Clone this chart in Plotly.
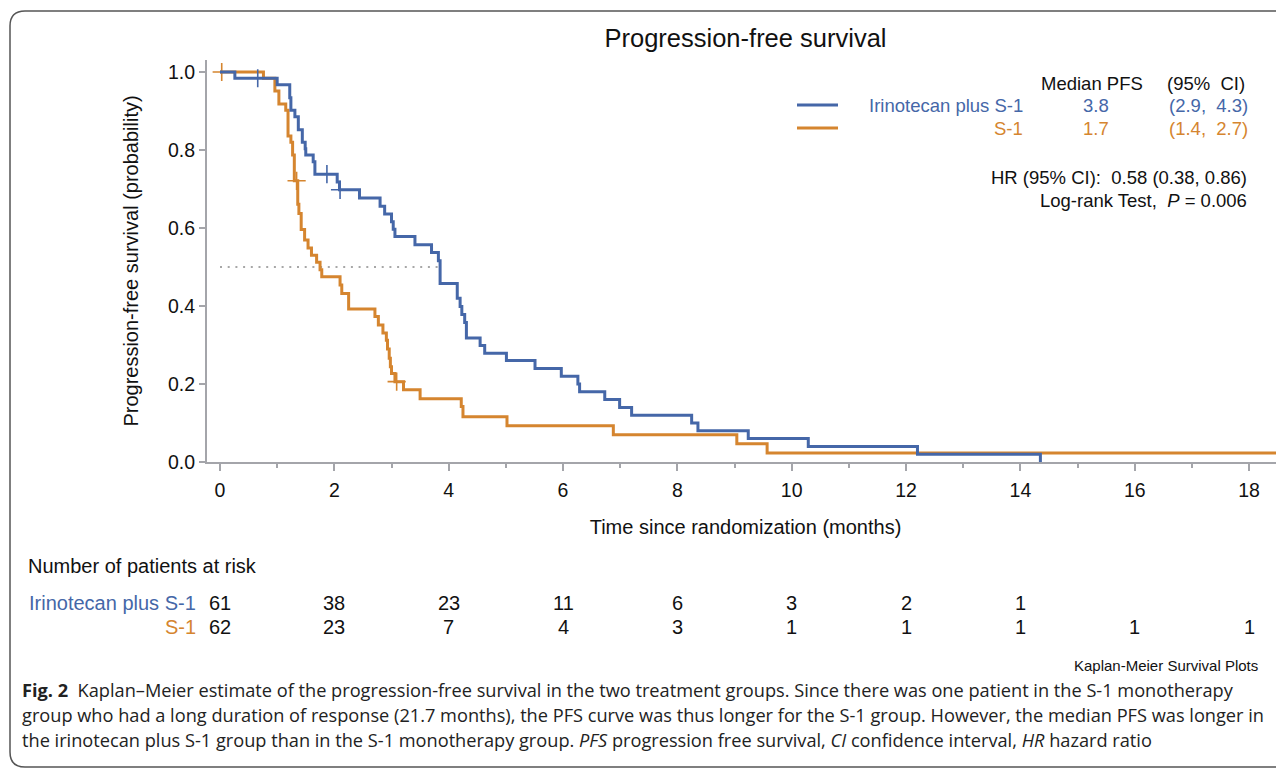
import plotly.graph_objects as go

# ---------------- data ----------------
ir_t = [0, 0.26, 1.00, 1.22, 1.24, 1.31, 1.37, 1.44, 1.49, 1.50, 1.63, 1.66, 2.05, 2.09,
        2.44, 2.80, 2.88, 3.00, 3.03, 3.06, 3.41, 3.70, 3.82, 3.85, 4.15, 4.20, 4.23, 4.28,
        4.31, 4.55, 4.63, 5.01, 5.51, 5.97, 6.26, 6.29, 6.73, 6.99, 7.20, 8.25, 8.36, 9.24,
        10.29, 12.20, 14.35]
ir_s = [1.0, 0.984, 0.967, 0.934, 0.902, 0.885, 0.852, 0.820, 0.803, 0.787, 0.770, 0.738,
        0.718, 0.698, 0.677, 0.656, 0.636, 0.616, 0.597, 0.578, 0.557, 0.537, 0.516, 0.458,
        0.420, 0.399, 0.378, 0.358, 0.318, 0.299, 0.279, 0.260, 0.240, 0.220, 0.200, 0.180,
        0.160, 0.140, 0.120, 0.100, 0.080, 0.060, 0.040, 0.020, 0.0]
ir_censor_t = [0.66, 1.87, 2.10]

s1_t = [0, 0.76, 0.96, 1.03, 1.15, 1.19, 1.24, 1.27, 1.30, 1.36, 1.38, 1.42, 1.48, 1.54,
        1.60, 1.69, 1.75, 1.78, 2.10, 2.13, 2.25, 2.71, 2.77, 2.85, 2.91, 2.93, 2.96, 2.98,
        3.00, 3.06, 3.21, 3.50, 4.22, 4.25, 5.02, 6.88, 9.04, 9.57, 21.7]
s1_s = [1.0, 0.984, 0.951, 0.918, 0.902, 0.836, 0.820, 0.787, 0.721, 0.661, 0.637, 0.596,
        0.569, 0.549, 0.530, 0.512, 0.493, 0.475, 0.454, 0.432, 0.392, 0.373, 0.351, 0.331,
        0.312, 0.290, 0.266, 0.244, 0.227, 0.206, 0.185, 0.162, 0.142, 0.116, 0.093, 0.070,
        0.047, 0.023, 0.023]
s1_censor_t = [0.03, 1.34, 3.09, 21.7]

median_line_t = [0, 3.85]
median_line_s = [0.5, 0.5]

risk_times = [0, 2, 4, 6, 8, 10, 12, 14, 16, 18]
ir_risk = [61, 38, 23, 11, 6, 3, 2, 1]
s1_risk = [62, 23, 7, 4, 3, 1, 1, 1, 1, 1]

group_names = ["Irinotecan plus S-1", "S-1"]
median_pfs = ["3.8", "1.7"]
median_ci = ["(2.9,\u00a0\u00a04.3)", "(1.4,\u00a0\u00a02.7)"]
hr_text = "HR (95% CI):\u00a0\u00a00.58 (0.38, 0.86)"
logrank_text = "Log-rank Test,\u00a0\u00a0<i>P</i> = 0.006"

caption_lines = [
    "<b>Fig. 2</b>\u00a0\u00a0Kaplan\u2013Meier estimate of the progression-free survival in the two treatment groups. Since there was one patient in the S-1 monotherapy",
    "group who had a long duration of response (21.7 months), the PFS curve was thus longer for the S-1 group. However, the median PFS was longer in",
    "the irinotecan plus S-1 group than in the S-1 monotherapy group. <i>PFS</i> progression free survival, <i>CI</i> confidence interval, <i>HR</i> hazard ratio",
]

# ---------------- style ----------------
BLUE = "#4567A8"
ORANGE = "#D5852F"
GREY = "#A4A5AA"
TXT = "#111111"
FONT = "Liberation Sans, Arial, sans-serif"
CAPFONT = "Open Sans, Noto Sans, sans-serif"

OFF = 8                      # page body margin
PAGE_W, PAGE_H = 1284, 770
W, H = PAGE_W - OFF, PAGE_H - OFF
PL, PR, PT, PB = 207, 1284, 60, 462      # plot area in page pixels
L, R, T, B = PL - OFF, 0, PT - OFF, H - (PB - OFF)
PW, PH = PR - PL, PB - PT
X0PX, PXPM = 220.0, 57.17          # page pixel of t=0, pixels per month
Y0PX, PXPU = 462.0, 390.0          # page pixel of S=0, pixels per unit

x_range = [(PL - X0PX) / PXPM, (PR - X0PX) / PXPM]
y_range = [(Y0PX - PB) / PXPU, (Y0PX - PT) / PXPU]


def px(xp):
    return (xp - PL) / PW


def py(yp):
    return (PB - yp) / PH


def step_value(ts, ss, t):
    v = ss[0]
    for ti, si in zip(ts, ss):
        if ti <= t:
            v = si
    return v


fig = go.Figure()

fig.add_trace(go.Scatter(x=median_line_t, y=median_line_s, mode="lines",
                         line=dict(color="#8A8A8A", width=1.6, dash="2px,5.7px"),
                         hoverinfo="skip", showlegend=False))

for ts, ss, cens, col in [(s1_t, s1_s, s1_censor_t, ORANGE), (ir_t, ir_s, ir_censor_t, BLUE)]:
    fig.add_trace(go.Scatter(x=ts, y=ss, mode="lines", line_shape="hv",
                             line=dict(color=col, width=3), showlegend=False))
    fig.add_trace(go.Scatter(x=cens, y=[step_value(ts, ss, c) for c in cens], mode="markers",
                             marker=dict(symbol="cross-thin", size=13,
                                         line=dict(color=col, width=1.6)),
                             showlegend=False))

ann = []


def add_text(text, xp, yp, size, color=TXT, xanchor="left", xref="paper", x=None,
             family=FONT):
    ann.append(dict(text=text, x=px(xp) if x is None else x, y=py(yp), xref=xref,
                    yref="paper", xanchor=xanchor, yanchor="middle", showarrow=False,
                    borderpad=0, font=dict(family=family, size=size, color=color)))


# stats block
SZ = 18.5
add_text("Median PFS", 1144, 83, SZ, xanchor="right")
add_text("(95%\u00a0\u00a0CI)", 1246, 83, SZ, xanchor="right")
row_y = [105, 128]
cols = [BLUE, ORANGE]
for i in range(2):
    add_text(group_names[i], 1024, row_y[i], SZ, cols[i], xanchor="right")
    add_text(median_pfs[i], 1096, row_y[i], SZ, cols[i], xanchor="center")
    add_text(median_ci[i], 1249, row_y[i], SZ, cols[i], xanchor="right")
add_text(hr_text, 1248, 177, SZ, xanchor="right")
add_text(logrank_text, 1248, 200, SZ, xanchor="right")

# at-risk table
add_text("Number of patients at risk", 27, 566, 20)
for i, risk in enumerate([ir_risk, s1_risk]):
    yp = [603, 627][i]
    add_text(group_names[i], 197, yp, 20, cols[i], xanchor="right")
    for t, n in zip(risk_times, risk):
        add_text(str(n), 0, yp, 20, xanchor="center", xref="x", x=t)

add_text("Kaplan-Meier Survival Plots", 1259, 665, 15, xanchor="right")

for i, line in enumerate(caption_lines):
    add_text(line, 21, 690 + 25 * i, 18.2, color="#222222", family=CAPFONT)

shapes = []
for i in range(2):
    shapes.append(dict(type="line", xref="paper", yref="paper", x0=px(797), x1=px(838),
                       y0=py(row_y[i]), y1=py(row_y[i]), line=dict(color=cols[i], width=3)))
# rounded frame
r = 15
x_l, y_t, y_b = 10, 11, 767
path = (f"M {px(1300)},{py(y_t)} L {px(x_l + r)},{py(y_t)} "
        f"Q {px(x_l)},{py(y_t)} {px(x_l)},{py(y_t + r)} "
        f"L {px(x_l)},{py(y_b - r)} Q {px(x_l)},{py(y_b)} {px(x_l + r)},{py(y_b)} "
        f"L {px(1300)},{py(y_b)}")
shapes.append(dict(type="path", xref="paper", yref="paper", path=path,
                   line=dict(color="#555555", width=1.5)))

fig.update_layout(
    width=W, height=H, margin=dict(l=L, r=R, t=T, b=B),
    paper_bgcolor="white", plot_bgcolor="white",
    title=dict(text="Progression-free survival", x=0.5, xref="paper", xanchor="center",
               y=1 - (38 - OFF) / H, yref="container", yanchor="middle",
               font=dict(family=FONT, size=25.5, color=TXT)),
    xaxis=dict(range=x_range, tickmode="array", tickvals=risk_times,
               ticktext=[str(t) for t in risk_times],
               showline=True, linecolor=GREY, linewidth=2, ticks="outside", ticklen=7,
               tickwidth=1.6, tickcolor=GREY, showgrid=False, zeroline=False,
               ticklabelstandoff=3,
               tickfont=dict(family=FONT, size=19.5, color=TXT),
               minor=dict(tickmode="array", tickvals=[1, 3, 5, 7, 9, 11, 13, 15, 17],
                          ticks="outside", ticklen=4, tickcolor=GREY, tickwidth=1.6),
               title=dict(text="Time since randomization (months)", standoff=20,
                          font=dict(family=FONT, size=20, color=TXT))),
    yaxis=dict(range=y_range, tickvals=[0, 0.2, 0.4, 0.6, 0.8, 1.0], tickformat=".1f",
               showline=True, linecolor=GREY, linewidth=2, ticks="outside", ticklen=6,
               tickwidth=1.6, tickcolor=GREY, showgrid=False, zeroline=False,
               tickfont=dict(family=FONT, size=19.5, color=TXT),
               title=dict(text="Progression-free survival (probability)", standoff=24,
                          font=dict(family=FONT, size=20, color=TXT))),
    annotations=ann, shapes=shapes, showlegend=False,
)

fig.write_html("out.html")
